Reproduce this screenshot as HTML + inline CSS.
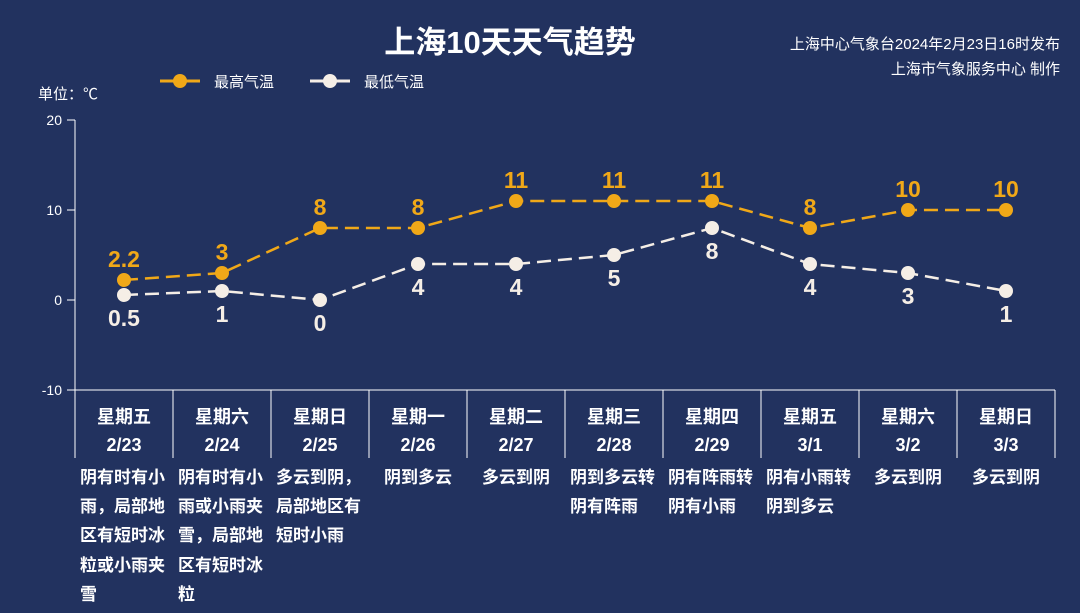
<!DOCTYPE html>
<html><head><meta charset="utf-8">
<style>
html,body{margin:0;padding:0;background:#22325f;}
svg{display:block}
text{font-family:"Liberation Sans","Noto Sans CJK SC",sans-serif;}
</style></head><body>
<svg width="1080" height="613" viewBox="0 0 1080 613" xmlns="http://www.w3.org/2000/svg">
<rect width="1080" height="613" fill="#22325f"/>
<text x="510" y="53" text-anchor="middle" font-size="31" font-weight="bold" fill="#fff">上海10天天气趋势</text>
<text x="1060" y="49" text-anchor="end" font-size="15" fill="#fff">上海中心气象台2024年2月23日16时发布</text>
<text x="1060" y="74" text-anchor="end" font-size="15" fill="#fff">上海市气象服务中心 制作</text>
<line x1="160" y1="81" x2="200" y2="81" stroke="#f0a818" stroke-width="3"/>
<circle cx="180" cy="81" r="7" fill="#f0a818"/>
<text x="214" y="87" font-size="15" fill="#fff">最高气温</text>
<line x1="310" y1="81" x2="350" y2="81" stroke="#f5eee6" stroke-width="3"/>
<circle cx="330" cy="81" r="7" fill="#f5eee6"/>
<text x="364" y="87" font-size="15" fill="#fff">最低气温</text>
<text x="38" y="99" font-size="15" fill="#fff">单位：℃</text>
<g stroke="#fff" stroke-width="1">
<line x1="75" y1="120" x2="75" y2="390"/>
<line x1="67" y1="120" x2="75" y2="120"/>
<line x1="67" y1="210" x2="75" y2="210"/>
<line x1="67" y1="300" x2="75" y2="300"/>
<line x1="67" y1="390" x2="1055" y2="390"/>
<line x1="173" y1="390" x2="173" y2="458"/><line x1="271" y1="390" x2="271" y2="458"/>
<line x1="369" y1="390" x2="369" y2="458"/><line x1="467" y1="390" x2="467" y2="458"/>
<line x1="565" y1="390" x2="565" y2="458"/><line x1="663" y1="390" x2="663" y2="458"/>
<line x1="761" y1="390" x2="761" y2="458"/><line x1="859" y1="390" x2="859" y2="458"/>
<line x1="957" y1="390" x2="957" y2="458"/><line x1="1055" y1="390" x2="1055" y2="458"/>
<line x1="75" y1="390" x2="75" y2="458"/>
</g>
<g font-size="14" fill="#fff" text-anchor="end">
<text x="62" y="125">20</text><text x="62" y="215">10</text><text x="62" y="305">0</text><text x="62" y="395">-10</text>
</g>
<polyline fill="none" stroke="#f0a818" stroke-width="2.5" stroke-dasharray="14,7" points="124,280 222,273 320,228 418,228 516,201 614,201 712,201 810,228 908,210 1006,210"/>
<polyline fill="none" stroke="#f5eee6" stroke-width="2.5" stroke-dasharray="14,7" points="124,295 222,291 320,300 418,264 516,264 614,255 712,228 810,264 908,273 1006,291"/>
<g fill="#f0a818">
<circle cx="124" cy="280" r="7"/><circle cx="222" cy="273" r="7"/><circle cx="320" cy="228" r="7"/><circle cx="418" cy="228" r="7"/><circle cx="516" cy="201" r="7"/><circle cx="614" cy="201" r="7"/><circle cx="712" cy="201" r="7"/><circle cx="810" cy="228" r="7"/><circle cx="908" cy="210" r="7"/><circle cx="1006" cy="210" r="7"/>
</g>
<g fill="#f5eee6">
<circle cx="124" cy="295" r="7"/><circle cx="222" cy="291" r="7"/><circle cx="320" cy="300" r="7"/><circle cx="418" cy="264" r="7"/><circle cx="516" cy="264" r="7"/><circle cx="614" cy="255" r="7"/><circle cx="712" cy="228" r="7"/><circle cx="810" cy="264" r="7"/><circle cx="908" cy="273" r="7"/><circle cx="1006" cy="291" r="7"/>
</g>
<g font-size="23" font-weight="bold" fill="#f0a818" text-anchor="middle">
<text x="124" y="267">2.2</text><text x="222" y="260">3</text><text x="320" y="215">8</text><text x="418" y="215">8</text><text x="516" y="188">11</text><text x="614" y="188">11</text><text x="712" y="188">11</text><text x="810" y="215">8</text><text x="908" y="197">10</text><text x="1006" y="197">10</text>
</g>
<g font-size="23" font-weight="bold" fill="#f5eee6" text-anchor="middle">
<text x="124" y="326">0.5</text><text x="222" y="322">1</text><text x="320" y="331">0</text><text x="418" y="295">4</text><text x="516" y="295">4</text><text x="614" y="286">5</text><text x="712" y="259">8</text><text x="810" y="295">4</text><text x="908" y="304">3</text><text x="1006" y="322">1</text>
</g>
<g font-size="18" font-weight="bold" fill="#fff" text-anchor="middle">
<text x="124" y="423">星期五</text><text x="124" y="451">2/23</text>
<text x="222" y="423">星期六</text><text x="222" y="451">2/24</text>
<text x="320" y="423">星期日</text><text x="320" y="451">2/25</text>
<text x="418" y="423">星期一</text><text x="418" y="451">2/26</text>
<text x="516" y="423">星期二</text><text x="516" y="451">2/27</text>
<text x="614" y="423">星期三</text><text x="614" y="451">2/28</text>
<text x="712" y="423">星期四</text><text x="712" y="451">2/29</text>
<text x="810" y="423">星期五</text><text x="810" y="451">3/1</text>
<text x="908" y="423">星期六</text><text x="908" y="451">3/2</text>
<text x="1006" y="423">星期日</text><text x="1006" y="451">3/3</text>
</g>
<g font-size="17" font-weight="bold" fill="#fff">
<text x="80" y="483">阴有时有小</text><text x="80" y="512">雨，局部地</text><text x="80" y="541">区有短时冰</text><text x="80" y="571">粒或小雨夹</text><text x="80" y="600">雪</text>
<text x="178" y="483">阴有时有小</text><text x="178" y="512">雨或小雨夹</text><text x="178" y="541">雪，局部地</text><text x="178" y="571">区有短时冰</text><text x="178" y="600">粒</text>
<text x="276" y="483">多云到阴，</text><text x="276" y="512">局部地区有</text><text x="276" y="541">短时小雨</text>
<text x="384" y="483">阴到多云</text>
<text x="482" y="483">多云到阴</text>
<text x="570" y="483">阴到多云转</text><text x="570" y="512">阴有阵雨</text>
<text x="668" y="483">阴有阵雨转</text><text x="668" y="512">阴有小雨</text>
<text x="766" y="483">阴有小雨转</text><text x="766" y="512">阴到多云</text>
<text x="874" y="483">多云到阴</text>
<text x="972" y="483">多云到阴</text>
</g>
</svg>
</body></html>
